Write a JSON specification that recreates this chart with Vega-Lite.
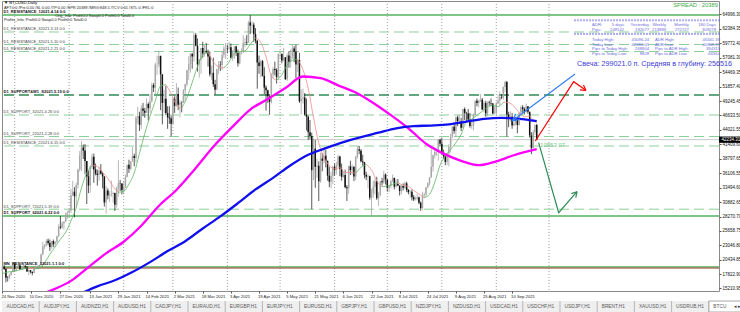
{
"$schema":"https://vega.github.io/schema/vega-lite/v6.json",
"padding":0,
"background":"#ffffff",
"spacing":1,
"config":{"font":"Liberation Sans","view":{"stroke":null},
 "axis":{"grid":false,"domain":false,"labelFontSize":4.5,"labelColor":"#111111","labelPadding":1,"tickSize":2,"tickColor":"#555555","labelOverlap":false}},
"datasets":{
"candles":[
{"d":"2020-11-24","o":18370,"h":19420,"l":18030,"c":19150},
{"d":"2020-11-25","o":19150,"h":19460,"l":18580,"c":18730},
{"d":"2020-11-26","o":18730,"h":18920,"l":16330,"c":17150},
{"d":"2020-11-27","o":17150,"h":17470,"l":16480,"c":17140},
{"d":"2020-11-28","o":17140,"h":17900,"l":16900,"c":17720},
{"d":"2020-11-29","o":17720,"h":18350,"l":17560,"c":18180},
{"d":"2020-11-30","o":18180,"h":19850,"l":18180,"c":19700},
{"d":"2020-12-01","o":19700,"h":19920,"l":18330,"c":18800},
{"d":"2020-12-02","o":18800,"h":19320,"l":18340,"c":19220},
{"d":"2020-12-03","o":19220,"h":19580,"l":18930,"c":19450},
{"d":"2020-12-04","o":19450,"h":19510,"l":18580,"c":18700},
{"d":"2020-12-05","o":18700,"h":19180,"l":18540,"c":19150},
{"d":"2020-12-06","o":19150,"h":19420,"l":18900,"c":19360},
{"d":"2020-12-07","o":19360,"h":19400,"l":18920,"c":19170},
{"d":"2020-12-08","o":19170,"h":19290,"l":18220,"c":18320},
{"d":"2020-12-09","o":18320,"h":18650,"l":17650,"c":18550},
{"d":"2020-12-10","o":18550,"h":18560,"l":17940,"c":18250},
{"d":"2020-12-11","o":18250,"h":18270,"l":17610,"c":18040},
{"d":"2020-12-12","o":18040,"h":18950,"l":18010,"c":18800},
{"d":"2020-12-13","o":18800,"h":19400,"l":18750,"c":19170},
{"d":"2020-12-14","o":19170,"h":19340,"l":19000,"c":19270},
{"d":"2020-12-15","o":19270,"h":19570,"l":19070,"c":19440},
{"d":"2020-12-16","o":19440,"h":21560,"l":19300,"c":21380},
{"d":"2020-12-17","o":21380,"h":23700,"l":21230,"c":22830},
{"d":"2020-12-18","o":22830,"h":23240,"l":22380,"c":23140},
{"d":"2020-12-19","o":23140,"h":24160,"l":22770,"c":23870},
{"d":"2020-12-20","o":23870,"h":24290,"l":23080,"c":23480},
{"d":"2020-12-21","o":23480,"h":24100,"l":22020,"c":22740},
{"d":"2020-12-22","o":22740,"h":23830,"l":22400,"c":23820},
{"d":"2020-12-23","o":23820,"h":24090,"l":22700,"c":23240},
{"d":"2020-12-24","o":23240,"h":23770,"l":22730,"c":23730},
{"d":"2020-12-25","o":23730,"h":24790,"l":23440,"c":24710},
{"d":"2020-12-26","o":24710,"h":26870,"l":24500,"c":26440},
{"d":"2020-12-27","o":26440,"h":28370,"l":25990,"c":26280},
{"d":"2020-12-28","o":26280,"h":27400,"l":26100,"c":27080},
{"d":"2020-12-29","o":27080,"h":27370,"l":25910,"c":27360},
{"d":"2020-12-30","o":27360,"h":28990,"l":27350,"c":28840},
{"d":"2020-12-31","o":28840,"h":29300,"l":27850,"c":29000},
{"d":"2021-01-01","o":29000,"h":29600,"l":28800,"c":29370},
{"d":"2021-01-02","o":29370,"h":33300,"l":28950,"c":32130},
{"d":"2021-01-03","o":32130,"h":34780,"l":32000,"c":32780},
{"d":"2021-01-04","o":32780,"h":33600,"l":28130,"c":31970},
{"d":"2021-01-05","o":31970,"h":34440,"l":29900,"c":33990},
{"d":"2021-01-06","o":33990,"h":36940,"l":33400,"c":36820},
{"d":"2021-01-07","o":36820,"h":40180,"l":36400,"c":39370},
{"d":"2021-01-08","o":39370,"h":41950,"l":36570,"c":40800},
{"d":"2021-01-09","o":40800,"h":41360,"l":38720,"c":40250},
{"d":"2021-01-10","o":40250,"h":41420,"l":35980,"c":38350},
{"d":"2021-01-11","o":38350,"h":38350,"l":30550,"c":35550},
{"d":"2021-01-12","o":35550,"h":36600,"l":32530,"c":33920},
{"d":"2021-01-13","o":33920,"h":37600,"l":32600,"c":37310},
{"d":"2021-01-14","o":37310,"h":39700,"l":36900,"c":39150},
{"d":"2021-01-15","o":39150,"h":39700,"l":34400,"c":36830},
{"d":"2021-01-16","o":36830,"h":37900,"l":35750,"c":36070},
{"d":"2021-01-17","o":36070,"h":36800,"l":33900,"c":35820},
{"d":"2021-01-18","o":35820,"h":37300,"l":34800,"c":36630},
{"d":"2021-01-19","o":36630,"h":37800,"l":35900,"c":36060},
{"d":"2021-01-20","o":36060,"h":36400,"l":33400,"c":35550},
{"d":"2021-01-21","o":35550,"h":35600,"l":30100,"c":30830},
{"d":"2021-01-22","o":30830,"h":33800,"l":28800,"c":33000},
{"d":"2021-01-23","o":33000,"h":33400,"l":31400,"c":32100},
{"d":"2021-01-24","o":32100,"h":32900,"l":30900,"c":32290},
{"d":"2021-01-25","o":32290,"h":34800,"l":31900,"c":32370},
{"d":"2021-01-26","o":32370,"h":32800,"l":30800,"c":32570},
{"d":"2021-01-27","o":32570,"h":32600,"l":29300,"c":30430},
{"d":"2021-01-28","o":30430,"h":33700,"l":29900,"c":33470},
{"d":"2021-01-29","o":33470,"h":38500,"l":31900,"c":34320},
{"d":"2021-01-30","o":34320,"h":34900,"l":32900,"c":34270},
{"d":"2021-01-31","o":34270,"h":34300,"l":32300,"c":33110},
{"d":"2021-02-01","o":33110,"h":34700,"l":32300,"c":33510},
{"d":"2021-02-02","o":33510,"h":35900,"l":33500,"c":35520},
{"d":"2021-02-03","o":35520,"h":37600,"l":35400,"c":37660},
{"d":"2021-02-04","o":37660,"h":38600,"l":36200,"c":36950},
{"d":"2021-02-05","o":36950,"h":38300,"l":36700,"c":38300},
{"d":"2021-02-06","o":38300,"h":40900,"l":38200,"c":39250},
{"d":"2021-02-07","o":39250,"h":39700,"l":37400,"c":38900},
{"d":"2021-02-08","o":38900,"h":46600,"l":38100,"c":46200},
{"d":"2021-02-09","o":46200,"h":48200,"l":45100,"c":46480},
{"d":"2021-02-10","o":46480,"h":47300,"l":43800,"c":44920},
{"d":"2021-02-11","o":44920,"h":48500,"l":44200,"c":47910},
{"d":"2021-02-12","o":47910,"h":48900,"l":46500,"c":47500},
{"d":"2021-02-13","o":47500,"h":48000,"l":46200,"c":47110},
{"d":"2021-02-14","o":47110,"h":49700,"l":47100,"c":48720},
{"d":"2021-02-15","o":48720,"h":49000,"l":45700,"c":47940},
{"d":"2021-02-16","o":47940,"h":50500,"l":47100,"c":49200},
{"d":"2021-02-17","o":49200,"h":52600,"l":49000,"c":52150},
{"d":"2021-02-18","o":52150,"h":52500,"l":50900,"c":51680},
{"d":"2021-02-19","o":51680,"h":56200,"l":50500,"c":55890},
{"d":"2021-02-20","o":55890,"h":57500,"l":54000,"c":55890},
{"d":"2021-02-21","o":55890,"h":58300,"l":55400,"c":57410},
{"d":"2021-02-22","o":57410,"h":57500,"l":47600,"c":54090},
{"d":"2021-02-23","o":54090,"h":54100,"l":45000,"c":48890},
{"d":"2021-02-24","o":48890,"h":51300,"l":47100,"c":49680},
{"d":"2021-02-25","o":49680,"h":52000,"l":46700,"c":47070},
{"d":"2021-02-26","o":47070,"h":48300,"l":44200,"c":46280},
{"d":"2021-02-27","o":46280,"h":48300,"l":45100,"c":46110},
{"d":"2021-02-28","o":46110,"h":46600,"l":42850,"c":45140},
{"d":"2021-03-01","o":45140,"h":49800,"l":45100,"c":49630},
{"d":"2021-03-02","o":49630,"h":50100,"l":47100,"c":48380},
{"d":"2021-03-03","o":48380,"h":52500,"l":48200,"c":50540},
{"d":"2021-03-04","o":50540,"h":51700,"l":47600,"c":48560},
{"d":"2021-03-05","o":48560,"h":49400,"l":46300,"c":48930},
{"d":"2021-03-06","o":48930,"h":49200,"l":47200,"c":48910},
{"d":"2021-03-07","o":48910,"h":51400,"l":48900,"c":51210},
{"d":"2021-03-08","o":51210,"h":52400,"l":49300,"c":52300},
{"d":"2021-03-09","o":52300,"h":54900,"l":51900,"c":54830},
{"d":"2021-03-10","o":54830,"h":57400,"l":53100,"c":55960},
{"d":"2021-03-11","o":55960,"h":58000,"l":54400,"c":57800},
{"d":"2021-03-12","o":57800,"h":58000,"l":55100,"c":57330},
{"d":"2021-03-13","o":57330,"h":61700,"l":56400,"c":61240},
{"d":"2021-03-14","o":61240,"h":61600,"l":59200,"c":59300},
{"d":"2021-03-15","o":59300,"h":60600,"l":54600,"c":55900},
{"d":"2021-03-16","o":55900,"h":56900,"l":53500,"c":56800},
{"d":"2021-03-17","o":56800,"h":58900,"l":54200,"c":58870},
{"d":"2021-03-18","o":58870,"h":60000,"l":57100,"c":57860},
{"d":"2021-03-19","o":57860,"h":59400,"l":57300,"c":58350},
{"d":"2021-03-20","o":58350,"h":59800,"l":57900,"c":58090},
{"d":"2021-03-21","o":58090,"h":58600,"l":55500,"c":57350},
{"d":"2021-03-22","o":57350,"h":58300,"l":53700,"c":54100},
{"d":"2021-03-23","o":54100,"h":55700,"l":53100,"c":54360},
{"d":"2021-03-24","o":54360,"h":57100,"l":51800,"c":52300},
{"d":"2021-03-25","o":52300,"h":53100,"l":50400,"c":51300},
{"d":"2021-03-26","o":51300,"h":55100,"l":51300,"c":55080},
{"d":"2021-03-27","o":55080,"h":56500,"l":54100,"c":55840},
{"d":"2021-03-28","o":55840,"h":56500,"l":54700,"c":55780},
{"d":"2021-03-29","o":55780,"h":58300,"l":54900,"c":57620},
{"d":"2021-03-30","o":57620,"h":59300,"l":57100,"c":58800},
{"d":"2021-03-31","o":58800,"h":59800,"l":56900,"c":58800},
{"d":"2021-04-01","o":58800,"h":59500,"l":57900,"c":58740},
{"d":"2021-04-02","o":58740,"h":60000,"l":58500,"c":59000},
{"d":"2021-04-03","o":59000,"h":59700,"l":57000,"c":57100},
{"d":"2021-04-04","o":57100,"h":58500,"l":56500,"c":58220},
{"d":"2021-04-05","o":58220,"h":59200,"l":56900,"c":59140},
{"d":"2021-04-06","o":59140,"h":59300,"l":57400,"c":57960},
{"d":"2021-04-07","o":57960,"h":58600,"l":55500,"c":56100},
{"d":"2021-04-08","o":56100,"h":58200,"l":55900,"c":58100},
{"d":"2021-04-09","o":58100,"h":58800,"l":57700,"c":58100},
{"d":"2021-04-10","o":58100,"h":61200,"l":58000,"c":59800},
{"d":"2021-04-11","o":59800,"h":60700,"l":59000,"c":59950},
{"d":"2021-04-12","o":59950,"h":61200,"l":59400,"c":59850},
{"d":"2021-04-13","o":59850,"h":63800,"l":59800,"c":63500},
{"d":"2021-04-14","o":63500,"h":64850,"l":61400,"c":62980},
{"d":"2021-04-15","o":62980,"h":63700,"l":62000,"c":63110},
{"d":"2021-04-16","o":63110,"h":63500,"l":60000,"c":61400},
{"d":"2021-04-17","o":61400,"h":62500,"l":59700,"c":60200},
{"d":"2021-04-18","o":60200,"h":60300,"l":51500,"c":56250},
{"d":"2021-04-19","o":56250,"h":57500,"l":54200,"c":55600},
{"d":"2021-04-20","o":55600,"h":56800,"l":53500,"c":56500},
{"d":"2021-04-21","o":56500,"h":56700,"l":53700,"c":53800},
{"d":"2021-04-22","o":53800,"h":55400,"l":50500,"c":51700},
{"d":"2021-04-23","o":51700,"h":52100,"l":47500,"c":51200},
{"d":"2021-04-24","o":51200,"h":51300,"l":48900,"c":50100},
{"d":"2021-04-25","o":50100,"h":50500,"l":46750,"c":49100},
{"d":"2021-04-26","o":49100,"h":54300,"l":48800,"c":54050},
{"d":"2021-04-27","o":54050,"h":55400,"l":53400,"c":55050},
{"d":"2021-04-28","o":55050,"h":56400,"l":53900,"c":54900},
{"d":"2021-04-29","o":54900,"h":55200,"l":52400,"c":53600},
{"d":"2021-04-30","o":53600,"h":57900,"l":53100,"c":57800},
{"d":"2021-05-01","o":57800,"h":58400,"l":57100,"c":57800},
{"d":"2021-05-02","o":57800,"h":57900,"l":56100,"c":56600},
{"d":"2021-05-03","o":56600,"h":58900,"l":56500,"c":57200},
{"d":"2021-05-04","o":57200,"h":57200,"l":53100,"c":53200},
{"d":"2021-05-05","o":53200,"h":57900,"l":52900,"c":57500},
{"d":"2021-05-06","o":57500,"h":58300,"l":55300,"c":56400},
{"d":"2021-05-07","o":56400,"h":58600,"l":55300,"c":57400},
{"d":"2021-05-08","o":57400,"h":59500,"l":56900,"c":58800},
{"d":"2021-05-09","o":58800,"h":59200,"l":56300,"c":58200},
{"d":"2021-05-10","o":58200,"h":59500,"l":53400,"c":55900},
{"d":"2021-05-11","o":55900,"h":56900,"l":54500,"c":56700},
{"d":"2021-05-12","o":56700,"h":58000,"l":48900,"c":49200},
{"d":"2021-05-13","o":49200,"h":51400,"l":46800,"c":49700},
{"d":"2021-05-14","o":49700,"h":51500,"l":48800,"c":49900},
{"d":"2021-05-15","o":49900,"h":50700,"l":46600,"c":46800},
{"d":"2021-05-16","o":46800,"h":49700,"l":43900,"c":46400},
{"d":"2021-05-17","o":46400,"h":46600,"l":42200,"c":43600},
{"d":"2021-05-18","o":43600,"h":45800,"l":42300,"c":42900},
{"d":"2021-05-19","o":42900,"h":43500,"l":29600,"c":36700},
{"d":"2021-05-20","o":36700,"h":42500,"l":34900,"c":40600},
{"d":"2021-05-21","o":40600,"h":42200,"l":33500,"c":37300},
{"d":"2021-05-22","o":37300,"h":38800,"l":35300,"c":37500},
{"d":"2021-05-23","o":37500,"h":38300,"l":31100,"c":34700},
{"d":"2021-05-24","o":34700,"h":39900,"l":34400,"c":38800},
{"d":"2021-05-25","o":38800,"h":39800,"l":36500,"c":38400},
{"d":"2021-05-26","o":38400,"h":40800,"l":37900,"c":39300},
{"d":"2021-05-27","o":39300,"h":40400,"l":37200,"c":38400},
{"d":"2021-05-28","o":38400,"h":38400,"l":34800,"c":35700},
{"d":"2021-05-29","o":35700,"h":37300,"l":33600,"c":34600},
{"d":"2021-05-30","o":34600,"h":36400,"l":33400,"c":35700},
{"d":"2021-05-31","o":35700,"h":37500,"l":34200,"c":37300},
{"d":"2021-06-01","o":37300,"h":37900,"l":35700,"c":36700},
{"d":"2021-06-02","o":36700,"h":38200,"l":35900,"c":37600},
{"d":"2021-06-03","o":37600,"h":39500,"l":37200,"c":39200},
{"d":"2021-06-04","o":39200,"h":39300,"l":35600,"c":36900},
{"d":"2021-06-05","o":36900,"h":37900,"l":34800,"c":35500},
{"d":"2021-06-06","o":35500,"h":36400,"l":35300,"c":35800},
{"d":"2021-06-07","o":35800,"h":36800,"l":33400,"c":33600},
{"d":"2021-06-08","o":33600,"h":34000,"l":31100,"c":33400},
{"d":"2021-06-09","o":33400,"h":37500,"l":32400,"c":37400},
{"d":"2021-06-10","o":37400,"h":38400,"l":35800,"c":36700},
{"d":"2021-06-11","o":36700,"h":37700,"l":35900,"c":37300},
{"d":"2021-06-12","o":37300,"h":37400,"l":34700,"c":35550},
{"d":"2021-06-13","o":35550,"h":39300,"l":34900,"c":39100},
{"d":"2021-06-14","o":39100,"h":41000,"l":38800,"c":40500},
{"d":"2021-06-15","o":40500,"h":41100,"l":39600,"c":40200},
{"d":"2021-06-16","o":40200,"h":40500,"l":38100,"c":38300},
{"d":"2021-06-17","o":38300,"h":39500,"l":37500,"c":38100},
{"d":"2021-06-18","o":38100,"h":38200,"l":35200,"c":35800},
{"d":"2021-06-19","o":35800,"h":36400,"l":34900,"c":35500},
{"d":"2021-06-20","o":35500,"h":36000,"l":33400,"c":35600},
{"d":"2021-06-21","o":35600,"h":35700,"l":31300,"c":31700},
{"d":"2021-06-22","o":31700,"h":33300,"l":28400,"c":32500},
{"d":"2021-06-23","o":32500,"h":34800,"l":31700,"c":33700},
{"d":"2021-06-24","o":33700,"h":35200,"l":32300,"c":34700},
{"d":"2021-06-25","o":34700,"h":35500,"l":31300,"c":31600},
{"d":"2021-06-26","o":31600,"h":32700,"l":30200,"c":32200},
{"d":"2021-06-27","o":32200,"h":34700,"l":32000,"c":34700},
{"d":"2021-06-28","o":34700,"h":35300,"l":33900,"c":34500},
{"d":"2021-06-29","o":34500,"h":36600,"l":34200,"c":35900},
{"d":"2021-06-30","o":35900,"h":36100,"l":34100,"c":35000},
{"d":"2021-07-01","o":35000,"h":35000,"l":32800,"c":33500},
{"d":"2021-07-02","o":33500,"h":33900,"l":32700,"c":33800},
{"d":"2021-07-03","o":33800,"h":34900,"l":33400,"c":34700},
{"d":"2021-07-04","o":34700,"h":35900,"l":34500,"c":35300},
{"d":"2021-07-05","o":35300,"h":35300,"l":33200,"c":33700},
{"d":"2021-07-06","o":33700,"h":35000,"l":33500,"c":34200},
{"d":"2021-07-07","o":34200,"h":35100,"l":33800,"c":33900},
{"d":"2021-07-08","o":33900,"h":33900,"l":32100,"c":32900},
{"d":"2021-07-09","o":32900,"h":34100,"l":32300,"c":33800},
{"d":"2021-07-10","o":33800,"h":34300,"l":33000,"c":33500},
{"d":"2021-07-11","o":33500,"h":34600,"l":33300,"c":34300},
{"d":"2021-07-12","o":34300,"h":34600,"l":32700,"c":33100},
{"d":"2021-07-13","o":33100,"h":33300,"l":32300,"c":32700},
{"d":"2021-07-14","o":32700,"h":33100,"l":31700,"c":32800},
{"d":"2021-07-15","o":32800,"h":33200,"l":31200,"c":31800},
{"d":"2021-07-16","o":31800,"h":32200,"l":31100,"c":31400},
{"d":"2021-07-17","o":31400,"h":31900,"l":31200,"c":31500},
{"d":"2021-07-18","o":31500,"h":32400,"l":31200,"c":31800},
{"d":"2021-07-19","o":31800,"h":31900,"l":30500,"c":30800},
{"d":"2021-07-20","o":30800,"h":31000,"l":29300,"c":29800},
{"d":"2021-07-21","o":29800,"h":32800,"l":29500,"c":32100},
{"d":"2021-07-22","o":32100,"h":32600,"l":31700,"c":32300},
{"d":"2021-07-23","o":32300,"h":33600,"l":31900,"c":33600},
{"d":"2021-07-24","o":33600,"h":34500,"l":33400,"c":34300},
{"d":"2021-07-25","o":34300,"h":35400,"l":33900,"c":35400},
{"d":"2021-07-26","o":35400,"h":40500,"l":35300,"c":37300},
{"d":"2021-07-27","o":37300,"h":39500,"l":36400,"c":39400},
{"d":"2021-07-28","o":39400,"h":40900,"l":38800,"c":40000},
{"d":"2021-07-29","o":40000,"h":40600,"l":39300,"c":40000},
{"d":"2021-07-30","o":40000,"h":42300,"l":38400,"c":42200},
{"d":"2021-07-31","o":42200,"h":42400,"l":41100,"c":41500},
{"d":"2021-08-01","o":41500,"h":42600,"l":39500,"c":39900},
{"d":"2021-08-02","o":39900,"h":40400,"l":38700,"c":39200},
{"d":"2021-08-03","o":39200,"h":39700,"l":37600,"c":38200},
{"d":"2021-08-04","o":38200,"h":39900,"l":37600,"c":39700},
{"d":"2021-08-05","o":39700,"h":41400,"l":37400,"c":40900},
{"d":"2021-08-06","o":40900,"h":43300,"l":39900,"c":42800},
{"d":"2021-08-07","o":42800,"h":44700,"l":42500,"c":44600},
{"d":"2021-08-08","o":44600,"h":45300,"l":43300,"c":43800},
{"d":"2021-08-09","o":43800,"h":46400,"l":42800,"c":46300},
{"d":"2021-08-10","o":46300,"h":46600,"l":44700,"c":45600},
{"d":"2021-08-11","o":45600,"h":46700,"l":45400,"c":45600},
{"d":"2021-08-12","o":45600,"h":46200,"l":43800,"c":44400},
{"d":"2021-08-13","o":44400,"h":47800,"l":44300,"c":47800},
{"d":"2021-08-14","o":47800,"h":48100,"l":45800,"c":47100},
{"d":"2021-08-15","o":47100,"h":47300,"l":45500,"c":47000},
{"d":"2021-08-16","o":47000,"h":47800,"l":45700,"c":45900},
{"d":"2021-08-17","o":45900,"h":47100,"l":44400,"c":44700},
{"d":"2021-08-18","o":44700,"h":46000,"l":44200,"c":44800},
{"d":"2021-08-19","o":44800,"h":47000,"l":43900,"c":46700},
{"d":"2021-08-20","o":46700,"h":49300,"l":46600,"c":49300},
{"d":"2021-08-21","o":49300,"h":49700,"l":48300,"c":48900},
{"d":"2021-08-22","o":48900,"h":49500,"l":48100,"c":49300},
{"d":"2021-08-23","o":49300,"h":50500,"l":49100,"c":49500},
{"d":"2021-08-24","o":49500,"h":49800,"l":47600,"c":47700},
{"d":"2021-08-25","o":47700,"h":49300,"l":47200,"c":48900},
{"d":"2021-08-26","o":48900,"h":49300,"l":46400,"c":47000},
{"d":"2021-08-27","o":47000,"h":49200,"l":46500,"c":49000},
{"d":"2021-08-28","o":49000,"h":49300,"l":48400,"c":48900},
{"d":"2021-08-29","o":48900,"h":49700,"l":48300,"c":48800},
{"d":"2021-08-30","o":48800,"h":48900,"l":46900,"c":47000},
{"d":"2021-08-31","o":47000,"h":48300,"l":46800,"c":47100},
{"d":"2021-09-01","o":47100,"h":49100,"l":46600,"c":48800},
{"d":"2021-09-02","o":48800,"h":50400,"l":48700,"c":49300},
{"d":"2021-09-03","o":49300,"h":51000,"l":48400,"c":50000},
{"d":"2021-09-04","o":50000,"h":50500,"l":49600,"c":49900},
{"d":"2021-09-05","o":49900,"h":51900,"l":49500,"c":51800},
{"d":"2021-09-06","o":51800,"h":52900,"l":50900,"c":52700},
{"d":"2021-09-07","o":52700,"h":52900,"l":42800,"c":46800},
{"d":"2021-09-08","o":46800,"h":47300,"l":44500,"c":46100},
{"d":"2021-09-09","o":46100,"h":47400,"l":45500,"c":46400},
{"d":"2021-09-10","o":46400,"h":47100,"l":44200,"c":44800},
{"d":"2021-09-11","o":44800,"h":45900,"l":44800,"c":45200},
{"d":"2021-09-12","o":45200,"h":46400,"l":44800,"c":46100},
{"d":"2021-09-13","o":46100,"h":46300,"l":43400,"c":44900},
{"d":"2021-09-14","o":44900,"h":47200,"l":44800,"c":47100},
{"d":"2021-09-15","o":47100,"h":48400,"l":46800,"c":48100},
{"d":"2021-09-16","o":48100,"h":48500,"l":47100,"c":47800},
{"d":"2021-09-17","o":47800,"h":48100,"l":46800,"c":47300},
{"d":"2021-09-18","o":47300,"h":48800,"l":47100,"c":48300},
{"d":"2021-09-19","o":48300,"h":48300,"l":46900,"c":47300},
{"d":"2021-09-20","o":47300,"h":47300,"l":42600,"c":43000},
{"d":"2021-09-21","o":43000,"h":43600,"l":39600,"c":40700},
{"d":"2021-09-22","o":40700,"h":44000,"l":40600,"c":43600},
{"d":"2021-09-23","o":43600,"h":45000,"l":43100,"c":44900},
{"d":"2021-09-24","o":44900,"h":45096,"l":42200,"c":42234}
],
"sma10":[
{"d":"2020-11-24","v":17900,"s":1,"dir":"up"},{"d":"2020-11-27","v":18190,"s":1,"dir":"up"},{"d":"2020-11-30","v":18330,"s":1,"dir":"up"},{"d":"2020-12-03","v":18520,"s":1,"dir":"up"},{"d":"2020-12-06","v":18740,"s":1,"dir":"up"},{"d":"2020-12-09","v":19040,"s":1,"dir":"up"},
{"d":"2020-12-09","v":19040,"s":2,"dir":"down"},{"d":"2020-12-12","v":18780,"s":2,"dir":"down"},
{"d":"2020-12-12","v":18780,"s":3,"dir":"up"},{"d":"2020-12-15","v":18840,"s":3,"dir":"up"},{"d":"2020-12-18","v":19890,"s":3,"dir":"up"},{"d":"2020-12-21","v":21410,"s":3,"dir":"up"},{"d":"2020-12-24","v":22770,"s":3,"dir":"up"},{"d":"2020-12-27","v":24150,"s":3,"dir":"up"},{"d":"2020-12-30","v":25420,"s":3,"dir":"up"},{"d":"2021-01-02","v":27490,"s":3,"dir":"up"},{"d":"2021-01-05","v":29880,"s":3,"dir":"up"},{"d":"2021-01-08","v":33510,"s":3,"dir":"up"},{"d":"2021-01-11","v":36200,"s":3,"dir":"up"},{"d":"2021-01-14","v":37550,"s":3,"dir":"up"},
{"d":"2021-01-14","v":37550,"s":4,"dir":"down"},{"d":"2021-01-17","v":37400,"s":4,"dir":"down"},{"d":"2021-01-20","v":36290,"s":4,"dir":"down"},{"d":"2021-01-23","v":35200,"s":4,"dir":"down"},{"d":"2021-01-26","v":33720,"s":4,"dir":"down"},{"d":"2021-01-29","v":32690,"s":4,"dir":"down"},
{"d":"2021-01-29","v":32690,"s":5,"dir":"up"},{"d":"2021-02-01","v":32840,"s":5,"dir":"up"},{"d":"2021-02-04","v":34180,"s":5,"dir":"up"},{"d":"2021-02-07","v":36180,"s":5,"dir":"up"},{"d":"2021-02-10","v":39770,"s":5,"dir":"up"},{"d":"2021-02-13","v":43350,"s":5,"dir":"up"},{"d":"2021-02-16","v":46490,"s":5,"dir":"up"},{"d":"2021-02-19","v":49300,"s":5,"dir":"up"},{"d":"2021-02-22","v":52010,"s":5,"dir":"up"},{"d":"2021-02-25","v":52200,"s":5,"dir":"up"},
{"d":"2021-02-25","v":52200,"s":6,"dir":"down"},{"d":"2021-02-28","v":50650,"s":6,"dir":"down"},{"d":"2021-03-03","v":48580,"s":6,"dir":"down"},{"d":"2021-03-06","v":47960,"s":6,"dir":"down"},
{"d":"2021-03-06","v":47960,"s":7,"dir":"up"},{"d":"2021-03-09","v":49840,"s":7,"dir":"up"},{"d":"2021-03-12","v":52640,"s":7,"dir":"up"},{"d":"2021-03-15","v":55480,"s":7,"dir":"up"},{"d":"2021-03-18","v":57590,"s":7,"dir":"up"},{"d":"2021-03-21","v":58110,"s":7,"dir":"up"},
{"d":"2021-03-21","v":58110,"s":8,"dir":"down"},{"d":"2021-03-24","v":56400,"s":8,"dir":"down"},{"d":"2021-03-27","v":55460,"s":8,"dir":"down"},{"d":"2021-03-30","v":55250,"s":8,"dir":"down"},
{"d":"2021-03-30","v":55250,"s":9,"dir":"up"},{"d":"2021-04-02","v":56330,"s":9,"dir":"up"},{"d":"2021-04-05","v":57900,"s":9,"dir":"up"},{"d":"2021-04-08","v":58200,"s":9,"dir":"up"},{"d":"2021-04-11","v":58350,"s":9,"dir":"up"},{"d":"2021-04-14","v":59550,"s":9,"dir":"up"},{"d":"2021-04-17","v":60700,"s":9,"dir":"up"},
{"d":"2021-04-17","v":60700,"s":10,"dir":"down"},{"d":"2021-04-20","v":59930,"s":10,"dir":"down"},{"d":"2021-04-23","v":57270,"s":10,"dir":"down"},{"d":"2021-04-26","v":53850,"s":10,"dir":"down"},{"d":"2021-04-29","v":53000,"s":10,"dir":"down"},
{"d":"2021-04-29","v":53000,"s":11,"dir":"up"},{"d":"2021-05-02","v":54020,"s":11,"dir":"up"},{"d":"2021-05-05","v":55770,"s":11,"dir":"up"},{"d":"2021-05-08","v":56630,"s":11,"dir":"up"},{"d":"2021-05-11","v":56790,"s":11,"dir":"up"},
{"d":"2021-05-11","v":56790,"s":12,"dir":"down"},{"d":"2021-05-14","v":54970,"s":12,"dir":"down"},{"d":"2021-05-17","v":51520,"s":12,"dir":"down"},{"d":"2021-05-20","v":46250,"s":12,"dir":"down"},{"d":"2021-05-23","v":41640,"s":12,"dir":"down"},{"d":"2021-05-26","v":38980,"s":12,"dir":"down"},{"d":"2021-05-29","v":37530,"s":12,"dir":"down"},{"d":"2021-06-01","v":36960,"s":12,"dir":"down"},{"d":"2021-06-04","v":37140,"s":12,"dir":"down"},{"d":"2021-06-07","v":36290,"s":12,"dir":"down"},{"d":"2021-06-10","v":36280,"s":12,"dir":"down"},{"d":"2021-06-13","v":36130,"s":12,"dir":"down"},
{"d":"2021-06-13","v":36130,"s":13,"dir":"up"},{"d":"2021-06-16","v":37200,"s":13,"dir":"up"},{"d":"2021-06-19","v":37710,"s":13,"dir":"up"},
{"d":"2021-06-19","v":37710,"s":14,"dir":"down"},{"d":"2021-06-22","v":36730,"s":14,"dir":"down"},{"d":"2021-06-25","v":34750,"s":14,"dir":"down"},{"d":"2021-06-28","v":33670,"s":14,"dir":"down"},
{"d":"2021-06-28","v":33670,"s":15,"dir":"up"},{"d":"2021-07-01","v":33830,"s":15,"dir":"up"},{"d":"2021-07-04","v":34120,"s":15,"dir":"up"},{"d":"2021-07-07","v":34450,"s":15,"dir":"up"},
{"d":"2021-07-07","v":34450,"s":16,"dir":"down"},{"d":"2021-07-10","v":33930,"s":16,"dir":"down"},{"d":"2021-07-13","v":33740,"s":16,"dir":"down"},{"d":"2021-07-16","v":33020,"s":16,"dir":"down"},{"d":"2021-07-19","v":32370,"s":16,"dir":"down"},{"d":"2021-07-22","v":31700,"s":16,"dir":"down"},
{"d":"2021-07-22","v":31700,"s":17,"dir":"up"},{"d":"2021-07-25","v":32300,"s":17,"dir":"up"},{"d":"2021-07-28","v":34500,"s":17,"dir":"up"},{"d":"2021-07-31","v":37600,"s":17,"dir":"up"},{"d":"2021-08-03","v":39310,"s":17,"dir":"up"},{"d":"2021-08-06","v":40440,"s":17,"dir":"up"},{"d":"2021-08-09","v":41690,"s":17,"dir":"up"},{"d":"2021-08-12","v":43190,"s":17,"dir":"up"},{"d":"2021-08-15","v":45500,"s":17,"dir":"up"},{"d":"2021-08-18","v":45920,"s":17,"dir":"up"},{"d":"2021-08-21","v":46660,"s":17,"dir":"up"},{"d":"2021-08-24","v":47380,"s":17,"dir":"up"},{"d":"2021-08-27","v":48110,"s":17,"dir":"up"},{"d":"2021-08-30","v":48500,"s":17,"dir":"up"},{"d":"2021-09-02","v":48250,"s":17,"dir":"up"},{"d":"2021-09-05","v":49060,"s":17,"dir":"up"},
{"d":"2021-09-05","v":49060,"s":18,"dir":"down"},{"d":"2021-09-08","v":48950,"s":18,"dir":"down"},{"d":"2021-09-11","v":48300,"s":18,"dir":"down"},{"d":"2021-09-14","v":47190,"s":18,"dir":"down"},{"d":"2021-09-17","v":46380,"s":18,"dir":"down"},{"d":"2021-09-20","v":46510,"s":18,"dir":"down"},{"d":"2021-09-22","v":45810,"s":18,"dir":"down"},{"d":"2021-09-24","v":45320,"s":18,"dir":"down"}
],
"sma100":[
{"d":"2020-12-15","v":14050},{"d":"2020-12-25","v":15300},{"d":"2021-01-02","v":16600},{"d":"2021-01-12","v":19100},{"d":"2021-01-22","v":21600},{"d":"2021-02-01","v":23700},{"d":"2021-02-11","v":26600},{"d":"2021-02-21","v":30200},{"d":"2021-03-03","v":33100},{"d":"2021-03-13","v":36700},{"d":"2021-03-25","v":41300},{"d":"2021-04-04","v":44600},{"d":"2021-04-14","v":47700},{"d":"2021-04-24","v":49600},{"d":"2021-05-04","v":51600},{"d":"2021-05-14","v":53700},{"d":"2021-05-24","v":53400},{"d":"2021-06-03","v":52100},{"d":"2021-06-13","v":50800},{"d":"2021-06-23","v":48900},{"d":"2021-07-03","v":46700},{"d":"2021-07-13","v":44300},{"d":"2021-07-23","v":41500},{"d":"2021-08-02","v":39700},{"d":"2021-08-12","v":38400},{"d":"2021-08-22","v":37600},{"d":"2021-09-01","v":38300},{"d":"2021-09-11","v":39400},{"d":"2021-09-24","v":40500}
],
"sma200":[
{"d":"2021-01-07","v":14200},{"d":"2021-01-17","v":15600},{"d":"2021-01-27","v":16700},{"d":"2021-02-06","v":18200},{"d":"2021-02-16","v":20000},{"d":"2021-02-26","v":22000},{"d":"2021-03-08","v":23800},{"d":"2021-03-18","v":26100},{"d":"2021-03-28","v":28300},{"d":"2021-04-07","v":30700},{"d":"2021-04-17","v":33200},{"d":"2021-04-27","v":35300},{"d":"2021-05-07","v":37600},{"d":"2021-05-17","v":39500},{"d":"2021-05-27","v":40700},{"d":"2021-06-06","v":41800},{"d":"2021-06-16","v":42700},{"d":"2021-06-26","v":43500},{"d":"2021-07-06","v":44300},{"d":"2021-07-16","v":44700},{"d":"2021-07-26","v":44800},{"d":"2021-08-05","v":45000},{"d":"2021-08-15","v":45500},{"d":"2021-08-25","v":46000},{"d":"2021-09-04","v":46200},{"d":"2021-09-14","v":46000},{"d":"2021-09-24","v":45600}
],
"levels":[
{"p":64870,"lab":"D1_RESISTANCE_12021.4.14 0:0","t":"solid"},
{"p":61783,"lab":"D1_RESISTANCE_32021.3.13 0:0","t":"dash"},
{"p":59513,"lab":"D1_RESISTANCE_32021.5.10 0:0","t":"dash"},
{"p":58242,"lab":"D1_RESISTANCE_62021.2.21 0:0","t":"dash"},
{"p":50344,"lab":"D1_SUPPORT&W1_S2021.5.19 0:0","t":"key"},
{"p":46713,"lab":"D1_SUPPORT_32021.4.26 0:0","t":"dash"},
{"p":42810,"lab":"D1_SUPPORT_22021.2.28 0:0","t":"dash"},
{"p":41085,"lab":"D1_RESISTANCE_22021.6.15 0:0","t":"dash"},
{"p":29611,"lab":"D1_SUPPORT_72021.5.19 0:0","t":"dash"},
{"p":28376,"lab":"D1_SUPPORT_62021.6.22 0:0","t":"solid"},
{"p":19150,"lab":"MN_RESISTANCE_12021.1.1 0:0","t":"mn"},
{"p":18930,"lab":"","t":"mn2"}
],
"grid":[{"d":"2020-12-01"},{"d":"2021-01-01"},{"d":"2021-02-01"},{"d":"2021-03-01"},{"d":"2021-04-01"},{"d":"2021-05-01"},{"d":"2021-06-01"},{"d":"2021-07-01"},{"d":"2021-08-01"},{"d":"2021-09-01"},{"d":"2021-10-01"}],
"arrows":[
{"a":"trend","s":0,"o":0,"d":"2021-10-15T19:00:00Z","p":54157},
{"a":"trend","s":0,"o":1,"d":"2021-09-10T00:00:00Z","p":45624},
{"a":"trend","s":1,"o":0,"d":"2021-09-10T00:00:00Z","p":45624},
{"a":"trend","s":1,"o":1,"d":"2021-09-14T10:00:00Z","p":45914},
{"a":"trend","s":2,"o":0,"d":"2021-09-10T00:00:00Z","p":45624},
{"a":"trend","s":2,"o":1,"d":"2021-09-12T02:00:00Z","p":46913},
{"a":"bull","s":0,"o":0,"d":"2021-09-23T05:00:00Z","p":41993},
{"a":"bull","s":0,"o":1,"d":"2021-10-15T00:00:00Z","p":52759},
{"a":"bull","s":0,"o":2,"d":"2021-10-22T00:00:00Z","p":51198},
{"a":"bull","s":1,"o":0,"d":"2021-10-22T00:00:00Z","p":51198},
{"a":"bull","s":1,"o":1,"d":"2021-10-20T14:00:00Z","p":52178},
{"a":"bull","s":2,"o":0,"d":"2021-10-22T00:00:00Z","p":51198},
{"a":"bull","s":2,"o":1,"d":"2021-10-18T14:00:00Z","p":51288},
{"a":"bear","s":0,"o":0,"d":"2021-09-25T02:00:00Z","p":41684},
{"a":"bear","s":0,"o":1,"d":"2021-10-06T12:00:00Z","p":28975},
{"a":"bear","s":0,"o":2,"d":"2021-10-16T22:00:00Z","p":32787},
{"a":"bear","s":1,"o":0,"d":"2021-10-16T22:00:00Z","p":32787},
{"a":"bear","s":1,"o":1,"d":"2021-10-13T17:00:00Z","p":32442},
{"a":"bear","s":2,"o":0,"d":"2021-10-16T22:00:00Z","p":32787},
{"a":"bear","s":2,"o":1,"d":"2021-10-16T05:00:00Z","p":31716}
],
"tabs":[{"tab":"AUDCAD,H1"},{"tab":"AUDJPY,H1"},{"tab":"AUDNZD,H1"},{"tab":"AUDUSD,H1"},{"tab":"CADJPY,H1"},{"tab":"EURAUD,H1"},{"tab":"EURGBP,H1"},{"tab":"EURJPY,H1"},{"tab":"EURUSD,H1"},{"tab":"GBPJPY,H1"},{"tab":"GBPUSD,H1"},{"tab":"NZDJPY,H1"},{"tab":"NZDUSD,H1"},{"tab":"USDCAD,H1"},{"tab":"USDCHF,H1"},{"tab":"USDJPY,H1"},{"tab":"BRENT,H1"},{"tab":"XAUUSD,H1"},{"tab":"USDRUB,H1"},{"tab":"BTCU"}]
},
"vconcat":[
{
"width":717,"height":290,
"view":{"stroke":"#8a8a8a","strokeWidth":1},
"layer":[
{"data":{"name":"grid"},"mark":{"type":"rule","color":"#a0a0a0","strokeDash":[1,2],"strokeWidth":1},
 "encoding":{"x":{"field":"d","type":"temporal","title":null}}},
{"data":{"name":"levels"},"transform":[{"filter":"datum.t==='dash'"}],"mark":{"type":"rule","color":"#8ccf9a","strokeWidth":1,"strokeDash":[10,5]},
 "encoding":{"y":{"field":"p","type":"quantitative","title":null}}},
{"data":{"name":"levels"},"transform":[{"filter":"datum.t==='key'"}],"mark":{"type":"rule","color":"#2e8b57","strokeWidth":1.6,"strokeDash":[10,5]},
 "encoding":{"y":{"field":"p","type":"quantitative","title":null}}},
{"data":{"name":"levels"},"transform":[{"filter":"datum.t==='solid' || datum.t==='mn'"}],"mark":{"type":"rule","color":"#52b35e","strokeWidth":1.3},
 "encoding":{"y":{"field":"p","type":"quantitative","title":null}}},
{"data":{"name":"levels"},"transform":[{"filter":"datum.t==='mn2'"}],"mark":{"type":"rule","color":"#8b3a1a","strokeWidth":1.2},
 "encoding":{"y":{"field":"p","type":"quantitative","title":null}}},
{"data":{"values":[{}]},"mark":{"type":"rule","color":"#c8c8c8","strokeWidth":1},
 "encoding":{"y":{"datum":42234,"type":"quantitative"}}},
{"data":{"name":"candles"},"mark":{"type":"rule","strokeWidth":0.7},
 "encoding":{
  "x":{"field":"d","type":"temporal","title":null,
   "scale":{"type":"utc","nice":false,"domain":[{"year":2020,"month":11,"date":23,"hours":18,"minutes":30,"utc":true},{"year":2022,"month":1,"date":5,"hours":17,"utc":true}]},
   "axis":{"orient":"bottom","title":null,"format":"%-d %b %Y","labelAlign":"left","labelFontSize":4.2,"labelColor":"#222222","labelOffset":-1.5,"labelOverlap":false,"labelBound":false,"labelFlush":false,"tickCount":100,
    "values":[{"year":2020,"month":11,"date":24,"utc":true},{"year":2020,"month":12,"date":10,"utc":true},{"year":2020,"month":12,"date":27,"utc":true},{"year":2021,"month":1,"date":13,"utc":true},{"year":2021,"month":1,"date":29,"utc":true},{"year":2021,"month":2,"date":14,"utc":true},{"year":2021,"month":3,"date":2,"utc":true},{"year":2021,"month":3,"date":18,"utc":true},{"year":2021,"month":4,"date":3,"utc":true},{"year":2021,"month":4,"date":19,"utc":true},{"year":2021,"month":5,"date":5,"utc":true},{"year":2021,"month":5,"date":21,"utc":true},{"year":2021,"month":6,"date":6,"utc":true},{"year":2021,"month":6,"date":22,"utc":true},{"year":2021,"month":7,"date":8,"utc":true},{"year":2021,"month":7,"date":24,"utc":true},{"year":2021,"month":8,"date":9,"utc":true},{"year":2021,"month":8,"date":25,"utc":true},{"year":2021,"month":9,"date":10,"utc":true}]}},
  "y":{"field":"l","type":"quantitative","title":null,"scale":{"domain":[14757,67411],"nice":false,"zero":false},
   "axis":{"orient":"right","title":null,"format":".2f","labelOverlap":false,"labelBound":false,"labelFlush":false,"tickCount":100,
    "values":[64996.30,62384.35,59772.40,57081.30,54469.35,51857.40,49245.45,46633.50,44021.55,41409.60,38797.65,36106.55,33494.60,30882.65,28270.70,25658.75,23046.80,20434.85,17822.90,15210.95]}},
  "y2":{"field":"h"},
  "color":{"condition":{"test":"datum.c < datum.o","value":"#111111"},"value":"#9a9a9a"}}},
{"data":{"name":"candles"},"mark":{"type":"rule","strokeWidth":1.5},
 "encoding":{"x":{"field":"d","type":"temporal","title":null},
  "y":{"field":"o","type":"quantitative","title":null},
  "y2":{"field":"c"},
  "color":{"condition":{"test":"datum.c < datum.o","value":"#111111"},"value":"#a8a8a8"}}},
{"data":{"name":"sma10"},"mark":{"type":"line","strokeWidth":0.8,"interpolate":"monotone","clip":true},
 "encoding":{"x":{"field":"d","type":"temporal","title":null},"y":{"field":"v","type":"quantitative","title":null},
  "detail":{"field":"s","type":"nominal"},
  "color":{"field":"dir","type":"nominal","scale":{"domain":["up","down"],"range":["#5cb85c","#f08c8c"]},"legend":null}}},
{"data":{"name":"sma100"},"mark":{"type":"line","color":"#ff00ff","strokeWidth":2.3,"interpolate":"monotone","clip":true},
 "encoding":{"x":{"field":"d","type":"temporal","title":null},"y":{"field":"v","type":"quantitative","title":null}}},
{"data":{"name":"sma200"},"mark":{"type":"line","color":"#1010ee","strokeWidth":2.3,"interpolate":"monotone","clip":true},
 "encoding":{"x":{"field":"d","type":"temporal","title":null},"y":{"field":"v","type":"quantitative","title":null}}},
{"data":{"name":"arrows"},"transform":[{"filter":"datum.a==='trend'"}],"mark":{"type":"line","color":"#2f7cf6","strokeWidth":1.1},
 "encoding":{"x":{"field":"d","type":"temporal","title":null},"y":{"field":"p","type":"quantitative","title":null},"detail":{"field":"s","type":"nominal"},"order":{"field":"o","type":"quantitative"}}},
{"data":{"name":"arrows"},"transform":[{"filter":"datum.a==='bull'"}],"mark":{"type":"line","color":"#ff0000","strokeWidth":1.2},
 "encoding":{"x":{"field":"d","type":"temporal","title":null},"y":{"field":"p","type":"quantitative","title":null},"detail":{"field":"s","type":"nominal"},"order":{"field":"o","type":"quantitative"}}},
{"data":{"name":"arrows"},"transform":[{"filter":"datum.a==='bear'"}],"mark":{"type":"line","color":"#2e8b57","strokeWidth":1.2},
 "encoding":{"x":{"field":"d","type":"temporal","title":null},"y":{"field":"p","type":"quantitative","title":null},"detail":{"field":"s","type":"nominal"},"order":{"field":"o","type":"quantitative"}}},
{"data":{"name":"levels"},"transform":[{"filter":"datum.t==='dash'"}],"mark":{"type":"text","align":"left","baseline":"bottom","dy":-0.5,"fontSize":4,"color":"#444444"},
 "encoding":{"x":{"datum":{"year":2020,"month":11,"date":24,"hours":15,"utc":true},"type":"temporal"},"y":{"field":"p","type":"quantitative","title":null},"text":{"field":"lab"}}},
{"data":{"name":"levels"},"transform":[{"filter":"datum.t==='solid' || datum.t==='key' || datum.t==='mn'"}],"mark":{"type":"text","align":"left","baseline":"bottom","dy":-1,"fontSize":4,"fontWeight":"bold","color":"#111111"},
 "encoding":{"x":{"datum":{"year":2020,"month":11,"date":24,"hours":15,"utc":true},"type":"temporal"},"y":{"field":"p","type":"quantitative","title":null},"text":{"field":"lab"}}},
{"data":{"values":[{}]},"mark":{"type":"text","align":"left","baseline":"top","fontSize":4.2,"color":"#000000","text":"▼ BTCUSD,Daily"},
 "encoding":{"x":{"datum":{"year":2020,"month":11,"date":24,"hours":22,"utc":true},"type":"temporal"},"y":{"datum":67411,"type":"quantitative"}}},
{"data":{"values":[{}]},"mark":{"type":"text","align":"left","baseline":"middle","fontSize":3.9,"color":"#222222","text":"AFT:0.0 /Pnt:0.00 /SL:0.00 /TP:0.00 /SPR:20389 /MRG:848.5 /TCV:0.01 /STL:0 /FRL:0"},
 "encoding":{"x":{"datum":{"year":2020,"month":11,"date":24,"hours":22,"utc":true},"type":"temporal"},"y":{"datum":66130,"type":"quantitative"}}},
{"data":{"values":[{}]},"mark":{"type":"text","align":"left","baseline":"middle","fontSize":3.9,"color":"#222222","text":"Orig_Info: Profit0.0 Swap0.0 Profit0.0 Total0.0"},
 "encoding":{"x":{"datum":{"year":2020,"month":12,"date":24,"utc":true},"type":"temporal"},"y":{"datum":64600,"type":"quantitative"}}},
{"data":{"values":[{}]},"mark":{"type":"text","align":"left","baseline":"middle","fontSize":3.9,"color":"#222222","text":"Profits_Info: Profit0.0 Swap0.0 Profit0.0 Total0.0"},
 "encoding":{"x":{"datum":{"year":2020,"month":11,"date":24,"hours":22,"utc":true},"type":"temporal"},"y":{"datum":63907,"type":"quantitative"}}},
{"data":{"values":[{}]},"mark":{"type":"text","align":"right","baseline":"middle","fontSize":5.8,"color":"#3cab46","text":"SPREAD : 20389","dx":-1},
 "encoding":{"x":{"datum":{"year":2022,"month":1,"date":5,"hours":17,"utc":true},"type":"temporal"},"y":{"datum":66685,"type":"quantitative"}}},
{"data":{"values":[{}]},"mark":{"type":"rule","color":"#6b6bdc","strokeWidth":0.6,"strokeDash":[2,1]},
 "encoding":{"x":{"datum":{"year":2021,"month":10,"date":15,"hours":5,"utc":true},"type":"temporal"},"x2":{"datum":{"year":2022,"month":1,"date":6,"hours":7,"utc":true}},"y":{"datum":63998,"type":"quantitative"}}},
{"data":{"values":[{}]},"mark":{"type":"rule","color":"#6b6bdc","strokeWidth":0.6,"strokeDash":[2,1]},
 "encoding":{"x":{"datum":{"year":2021,"month":10,"date":15,"hours":5,"utc":true},"type":"temporal"},"x2":{"datum":{"year":2022,"month":1,"date":6,"hours":7,"utc":true}},"y":{"datum":63816,"type":"quantitative"}}},
{"data":{"values":[{}]},"mark":{"type":"rule","color":"#6b6bdc","strokeWidth":0.6,"strokeDash":[2,1]},
 "encoding":{"x":{"datum":{"year":2021,"month":10,"date":15,"hours":5,"utc":true},"type":"temporal"},"x2":{"datum":{"year":2022,"month":1,"date":6,"hours":7,"utc":true}},"y":{"datum":61528,"type":"quantitative"}}},
{"data":{"values":[{}]},"mark":{"type":"rule","color":"#6b6bdc","strokeWidth":0.6,"strokeDash":[2,1]},
 "encoding":{"x":{"datum":{"year":2021,"month":10,"date":15,"hours":5,"utc":true},"type":"temporal"},"x2":{"datum":{"year":2022,"month":1,"date":6,"hours":7,"utc":true}},"y":{"datum":61347,"type":"quantitative"}}},
{"data":{"values":[{}]},"mark":{"type":"text","align":"left","baseline":"top","fontSize":4.2,"lineHeight":4.7,"color":"#6b6bdc","text":["ADR:","Pips:"]},
 "encoding":{"x":{"datum":{"year":2021,"month":10,"date":25,"hours":12,"utc":true},"type":"temporal"},"y":{"datum":63435,"type":"quantitative"}}},
{"data":{"values":[{}]},"mark":{"type":"text","align":"right","baseline":"top","fontSize":4.2,"lineHeight":4.7,"color":"#6b6bdc","text":["5 days","248142"]},
 "encoding":{"x":{"datum":{"year":2021,"month":11,"date":12,"hours":17,"utc":true},"type":"temporal"},"y":{"datum":63435,"type":"quantitative"}}},
{"data":{"values":[{}]},"mark":{"type":"text","align":"right","baseline":"top","fontSize":4.2,"lineHeight":4.7,"color":"#6b6bdc","text":["Yesterday","192077"]},
 "encoding":{"x":{"datum":{"year":2021,"month":11,"date":26,"hours":22,"utc":true},"type":"temporal"},"y":{"datum":63435,"type":"quantitative"}}},
{"data":{"values":[{}]},"mark":{"type":"text","align":"right","baseline":"top","fontSize":4.2,"lineHeight":4.7,"color":"#6b6bdc","text":["Weekly","213889"]},
 "encoding":{"x":{"datum":{"year":2021,"month":12,"date":6,"hours":14,"utc":true},"type":"temporal"},"y":{"datum":63435,"type":"quantitative"}}},
{"data":{"values":[{}]},"mark":{"type":"text","align":"right","baseline":"top","fontSize":4.2,"lineHeight":4.7,"color":"#6b6bdc","text":["Monthly","272727"]},
 "encoding":{"x":{"datum":{"year":2021,"month":12,"date":19,"hours":14,"utc":true},"type":"temporal"},"y":{"datum":63435,"type":"quantitative"}}},
{"data":{"values":[{}]},"mark":{"type":"text","align":"right","baseline":"top","fontSize":4.2,"lineHeight":4.7,"color":"#6b6bdc","text":["180 Days","309278"]},
 "encoding":{"x":{"datum":{"year":2022,"month":1,"date":4,"utc":true},"type":"temporal"},"y":{"datum":63435,"type":"quantitative"}}},
{"data":{"values":[{}]},"mark":{"type":"text","align":"left","baseline":"top","fontSize":4.2,"lineHeight":4.8,"color":"#6b6bdc","text":["Today High:","Today Low:","Pips to Today High:","Pips to Today Low:"]},
 "encoding":{"x":{"datum":{"year":2021,"month":10,"date":25,"hours":12,"utc":true},"type":"temporal"},"y":{"datum":60711,"type":"quantitative"}}},
{"data":{"values":[{}]},"mark":{"type":"text","align":"right","baseline":"top","fontSize":4.2,"lineHeight":4.8,"color":"#6b6bdc","text":["45096.24","42386.03","268804","8828"]},
 "encoding":{"x":{"datum":{"year":2021,"month":11,"date":26,"hours":22,"utc":true},"type":"temporal"},"y":{"datum":60711,"type":"quantitative"}}},
{"data":{"values":[{}]},"mark":{"type":"text","align":"left","baseline":"top","fontSize":4.2,"lineHeight":4.8,"color":"#6b6bdc","text":["ADR High:","ADR Low:","Pips to ADR High:","Pips to ADR Low:"]},
 "encoding":{"x":{"datum":{"year":2021,"month":11,"date":30,"hours":7,"utc":true},"type":"temporal"},"y":{"datum":60711,"type":"quantitative"}}},
{"data":{"values":[{}]},"mark":{"type":"text","align":"right","baseline":"top","fontSize":4.2,"lineHeight":4.8,"color":"#6b6bdc","text":["46341.39","40308.95","394319","-66564"]},
 "encoding":{"x":{"datum":{"year":2022,"month":1,"date":6,"hours":7,"utc":true},"type":"temporal"},"y":{"datum":60711,"type":"quantitative"}}},
{"data":{"values":[{}]},"mark":{"type":"text","align":"left","baseline":"middle","fontSize":7.2,"color":"#3a3ad6","text":"Свеча: 299021.0 п.  Средняя в глубину: 256516"},
 "encoding":{"x":{"datum":{"year":2021,"month":10,"date":16,"hours":22,"utc":true},"type":"temporal"},"y":{"datum":55973,"type":"quantitative"}}},
{"data":{"values":[{}]},"mark":{"type":"text","align":"left","baseline":"middle","fontSize":6,"color":"#7cc48a","text":"10553.07"},
 "encoding":{"x":{"datum":{"year":2021,"month":9,"date":25,"hours":22,"utc":true},"type":"temporal"},"y":{"datum":41266,"type":"quantitative"}}},
{"data":{"values":[{}]},"mark":{"type":"rect","color":"#000000"},
 "encoding":{"x":{"datum":{"year":2022,"month":1,"date":5,"hours":17,"utc":true},"type":"temporal"},"x2":{"datum":{"year":2022,"month":1,"date":19,"utc":true}},"y":{"datum":42804,"type":"quantitative"},"y2":{"datum":41664}}},
{"data":{"values":[{}]},"mark":{"type":"text","align":"left","baseline":"middle","fontSize":4.5,"color":"#ffffff","text":"42234.31","dx":2.5},
 "encoding":{"x":{"datum":{"year":2022,"month":1,"date":5,"hours":17,"utc":true},"type":"temporal"},"y":{"datum":42234,"type":"quantitative"}}}
]
},
{
"width":744,"height":11,
"view":{"fill":"#efefef","stroke":null},
"data":{"name":"tabs"},
"encoding":{"x":{"field":"tab","type":"nominal","sort":null,"scale":{"domain":["AUDCAD,H1","AUDJPY,H1","AUDNZD,H1","AUDUSD,H1","CADJPY,H1","EURAUD,H1","EURGBP,H1","EURJPY,H1","EURUSD,H1","GBPJPY,H1","GBPUSD,H1","NZDJPY,H1","NZDUSD,H1","USDCAD,H1","USDCHF,H1","USDJPY,H1","BRENT,H1","XAUUSD,H1","USDRUB,H1","BTCU"],"paddingInner":0,"paddingOuter":0},"axis":null}},
"layer":[
{"transform":[{"filter":"datum.tab==='BTCU'"}],"mark":{"type":"rect","fill":"#ffffff","stroke":"#a8a8a8","strokeWidth":1}},
{"transform":[{"filter":"datum.tab!=='AUDCAD,H1'"}],"mark":{"type":"rule","color":"#b5b5b5"},"encoding":{"x":{"field":"tab","type":"nominal","sort":null,"bandPosition":0,"axis":null}}},
{"mark":{"type":"text","align":"left","baseline":"middle","dx":4.5,"fontSize":4.8,"color":"#5a5a5a"},"encoding":{"x":{"field":"tab","type":"nominal","sort":null,"bandPosition":0,"axis":null},"text":{"field":"tab"}}},
{"transform":[{"filter":"datum.tab==='BTCU'"}],"mark":{"type":"text","align":"left","baseline":"middle","dx":25,"fontSize":4.5,"color":"#333333","text":"◂ ▸"},"encoding":{"x":{"field":"tab","type":"nominal","sort":null,"bandPosition":0,"axis":null}}}
]
}
]
}
